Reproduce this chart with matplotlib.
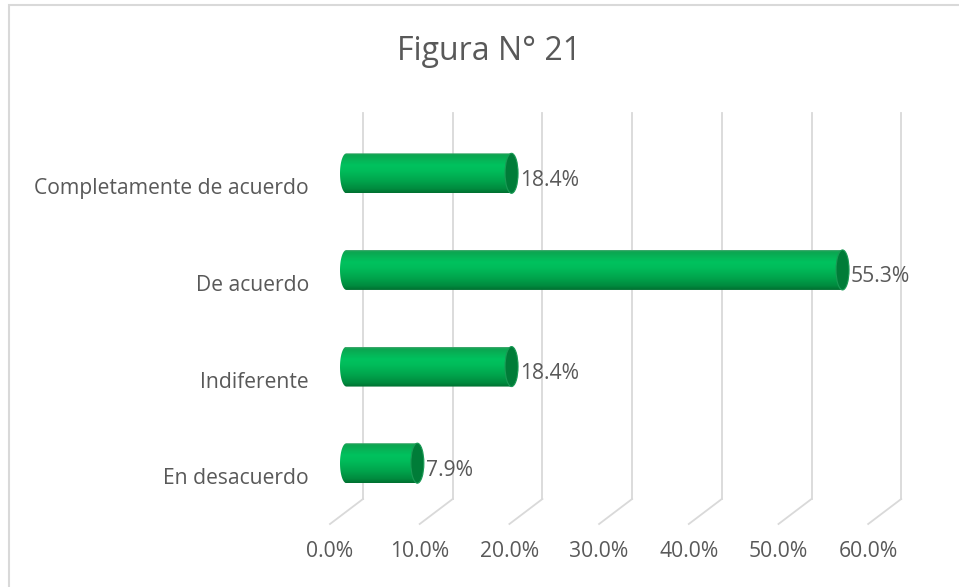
import numpy as np
import matplotlib
matplotlib.use("Agg")
import matplotlib.pyplot as plt
from matplotlib.patches import Ellipse, PathPatch, Rectangle
from matplotlib.path import Path
from matplotlib.colors import LinearSegmentedColormap
import matplotlib.transforms as mtrans

categories = ["En desacuerdo", "Indiferente", "De acuerdo", "Completamente de acuerdo"]
values = [7.9, 18.4, 55.3, 18.4]
value_labels = ["7.9%", "18.4%", "55.3%", "18.4%"]
xticks = [0, 10, 20, 30, 40, 50, 60]
xtick_labels = ["0.0%", "10.0%", "20.0%", "30.0%", "40.0%", "50.0%", "60.0%"]
title = "Figura N° 21"

FONT = ["Open Sans", "DejaVu Sans"]
TXT = "#595959"
GRID = "#d9d9d9"
FS = 15.2

fig = plt.figure(figsize=(9.59, 5.87), dpi=100)
fig.patch.set_facecolor("white")
W, H = 959, 587

# outer chart border (top/left visible)
fig.add_artist(Rectangle((9 / W, -0.1), 1.2, (582 / H) + 0.1, transform=fig.transFigure,
                         fill=False, edgecolor="#d9d9d9", linewidth=1.5))

ax = fig.add_axes([346.5 / W, 75.5 / H, 538.2 / W, 386.5 / H])
ax.set_xlim(0, 60)
ax.set_ylim(-0.5, 3.5)
ax.set_facecolor("none")
for s in ax.spines.values():
    s.set_visible(False)

DX, DY = 16.5, 12.5  # depth offset in pixels

# gridlines (back plane + floor diagonal)
back = mtrans.offset_copy(ax.transData, fig=fig, x=DX, y=DY, units="dots")
ident = mtrans.IdentityTransform()
for xv in xticks:
    ax.plot([xv, xv], [-0.5, 3.5], color=GRID, lw=1.3, transform=back, zorder=1, clip_on=False)
    p = ax.transData.transform((xv, -0.5))
    ax.plot([p[0] + DX, p[0] - DX], [p[1] + DY, p[1] - DY], color=GRID, lw=1.3,
            transform=ident, zorder=1, clip_on=False)

# cylinders
px_per_x = 538.2 / 60
px_per_y = 386.5 / 4
a = 6.5 / px_per_x
h = 40 / px_per_y
cmap = LinearSegmentedColormap.from_list("cyl", [
    (0.0, "#4aa873"), (0.04, "#0ca550"), (0.3, "#00c25e"), (0.45, "#00bc5a"),
    (0.7, "#00a44c"), (0.9, "#008a3e"), (1.0, "#006f30")])
grad = np.linspace(0, 1, 200).reshape(-1, 1)

for i, v in enumerate(values):
    yc = i
    t = np.linspace(np.pi / 2, 3 * np.pi / 2, 40)
    ex = a * np.cos(t)
    ey = yc + h / 2 * np.sin(t)
    verts = [(v, yc + h / 2)] + list(zip(ex, ey)) + [(v, yc - h / 2), (v, yc + h / 2)]
    codes = [Path.MOVETO] + [Path.LINETO] * (len(verts) - 2) + [Path.CLOSEPOLY]
    clip = PathPatch(Path(verts, codes), transform=ax.transData, facecolor="none", edgecolor="none")
    clip.set_clip_on(False)
    ax.add_patch(clip)
    im = ax.imshow(grad, cmap=cmap, aspect="auto", origin="upper",
                   extent=[-a, v, yc - h / 2, yc + h / 2], zorder=3, interpolation="bilinear")
    im.set_clip_box(fig.bbox)
    im.set_clip_path(clip)
    ax.add_patch(Ellipse((v, yc), 2 * a, h, facecolor="#007c38", edgecolor="#1a9a55",
                         linewidth=0.8, zorder=4))
    ax.annotate(value_labels[i], (v, yc), xytext=(8.5, -7), textcoords="offset pixels",
                ha="left", va="center", fontsize=FS, color=TXT, family=FONT, zorder=5)

ax.set_xlim(0, 60)
ax.set_ylim(-0.5, 3.5)

# category labels
ax.set_yticks(range(len(categories)))
ax.set_yticklabels(categories, fontsize=FS, color=TXT, family=FONT)
ax.tick_params(axis="y", length=0, pad=27)
for lab in ax.get_yticklabels():
    lab.set_transform(lab.get_transform() + mtrans.ScaledTranslation(0, -13 / 100, fig.dpi_scale_trans))

ax.set_xticks(xticks)
ax.set_xticklabels(xtick_labels, fontsize=FS, color=TXT, family=FONT)
ax.tick_params(axis="x", length=0, pad=21)
for lab in ax.get_xticklabels():
    lab.set_transform(lab.get_transform() + mtrans.ScaledTranslation(-DX / 100, 0, fig.dpi_scale_trans))

fig.text(489 / W, 1 - 52 / H, title, ha="center", va="center", fontsize=23, color=TXT, family=FONT)

fig.savefig("out.png", dpi=100, facecolor="white")
